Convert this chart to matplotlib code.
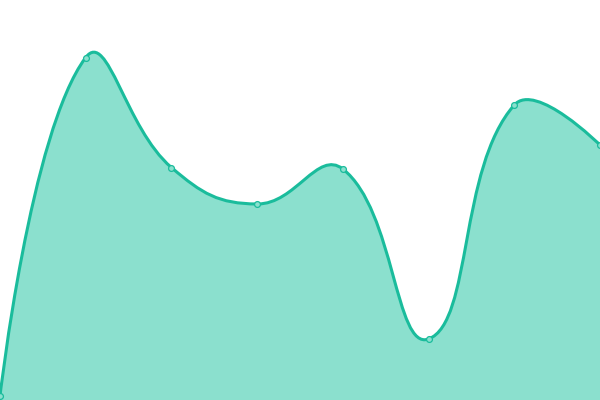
import matplotlib
matplotlib.use("Agg")
import matplotlib.pyplot as plt
import numpy as np
from matplotlib.path import Path
from matplotlib.patches import PathPatch

# values (y axis 0..400)
categories = [0, 1, 2, 3, 4, 5, 6, 7]
values = [4, 342.5, 232.5, 196, 231, 61, 295, 255]

LINE = "#1abc9c"
FILL = "#8be0ce"
SMOOTH = 0.45
W, H = 600, 400


def smooth_path(xs, ys, sx, sy):
    """Bezier path through points, control points computed in pixel space."""
    px = np.asarray(xs, float) * sx
    py = np.asarray(ys, float) * sy
    n = len(px)
    cp_in = [(px[i], py[i]) for i in range(n)]
    cp_out = [(px[i], py[i]) for i in range(n)]
    for i in range(1, n - 1):
        vx = px[i + 1] - px[i - 1]
        vy = py[i + 1] - py[i - 1]
        d0 = np.hypot(px[i] - px[i - 1], py[i] - py[i - 1])
        d1 = np.hypot(px[i + 1] - px[i], py[i + 1] - py[i])
        r = d1 / (d0 + d1)
        cp_in[i] = (px[i] - vx * SMOOTH * (1 - r), py[i] - vy * SMOOTH * (1 - r))
        cp_out[i] = (px[i] + vx * SMOOTH * r, py[i] + vy * SMOOTH * r)
    verts = [(px[0], py[0])]
    codes = [Path.MOVETO]
    for i in range(n - 1):
        verts += [cp_out[i], cp_in[i + 1], (px[i + 1], py[i + 1])]
        codes += [Path.CURVE4] * 3
    verts = [(x / sx, y / sy) for x, y in verts]
    return verts, codes


fig = plt.figure(figsize=(6, 4), dpi=100)
ax = fig.add_axes([0, 0, 1, 1])
ax.set_xlim(0, 7)
ax.set_ylim(0, 400)
ax.axis("off")

verts, codes = smooth_path(categories, values, W / 7, H / 400)
line_path = Path(verts, codes)
fill_verts = verts + [(categories[-1], 0), (categories[0], 0), verts[0]]
fill_codes = codes + [Path.LINETO, Path.LINETO, Path.CLOSEPOLY]
ax.add_patch(PathPatch(Path(fill_verts, fill_codes), facecolor=FILL, edgecolor="none"))
ax.add_patch(PathPatch(line_path, facecolor="none", edgecolor=LINE, lw=2.2, capstyle="round"))
ax.plot(categories, values, "o", ms=4.2, mfc="#8be0ce", mec=LINE, mew=0.9, clip_on=False)

fig.savefig("out.png", dpi=100)
